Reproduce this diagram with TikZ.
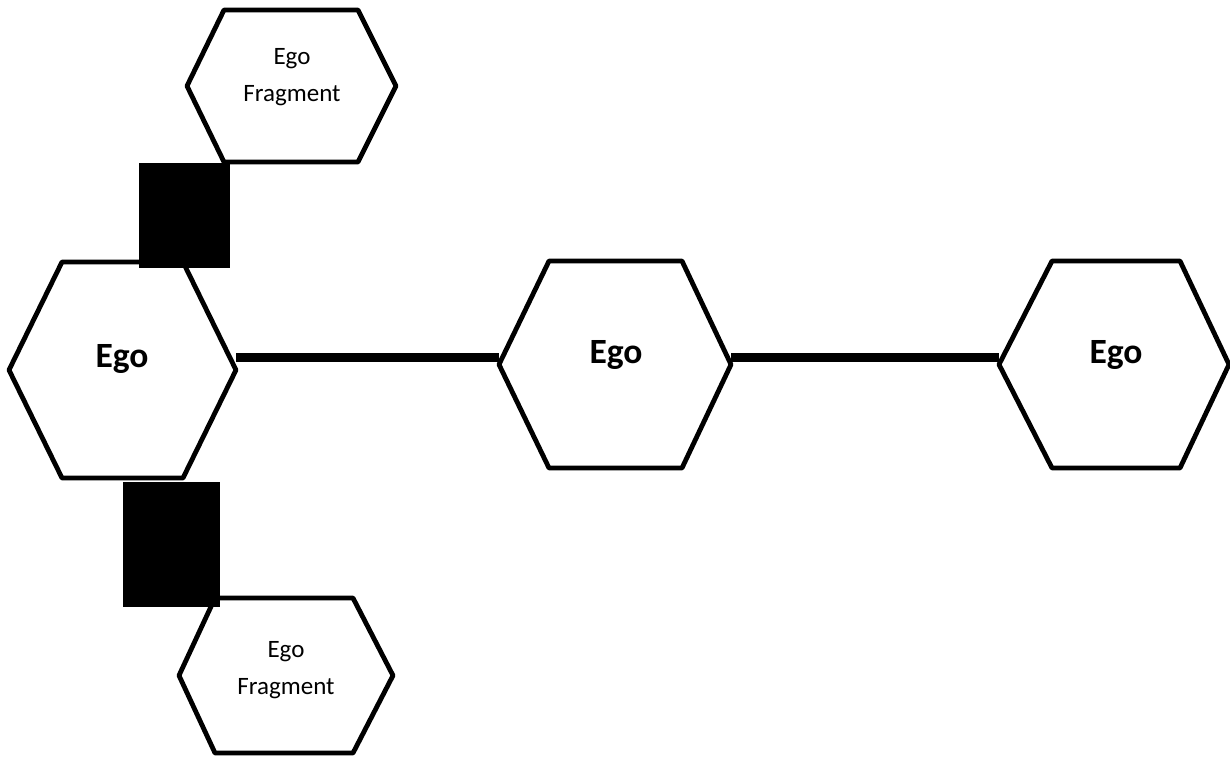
\documentclass[tikz,border=0pt]{standalone}
\usepackage{fontspec}
\setmainfont{Carlito}
\tikzset{
  hexline/.style={line width=4.8pt, line join=round},
  link/.style={line width=9pt},
  blk/.style={fill=black, draw=none, inner sep=0pt, outer sep=0pt, rectangle},
  bigtxt/.style={font=\fontsize{35.5}{40}\selectfont\bfseries, anchor=base, inner sep=0pt},
  fragtxt/.style={font=\fontsize{25}{37}\selectfont, align=center, inner sep=0pt},
}
% #1 name, #2 left x, #3 inner left x, #4 inner right x, #5 right x, #6 top y, #7 bottom y
\newcommand\hexat[7]{%
  \coordinate (#1-w) at (#2,{(#6+#7)/2});
  \coordinate (#1-e) at (#5,{(#6+#7)/2});
  \coordinate (#1-nw) at (#3,#6);
  \coordinate (#1-ne) at (#4,#6);
  \coordinate (#1-sw) at (#3,#7);
  \coordinate (#1-se) at (#4,#7);
  \draw[hexline] (#1-w) -- (#1-nw) -- (#1-ne) -- (#1-e) -- (#1-se) -- (#1-sw) -- cycle;
}
\begin{document}
\begin{tikzpicture}[x=1pt,y=-1pt]
\useasboundingbox (0,0) rectangle (1230,758);
\fill[white] (0,0) rectangle (1230,758);
% hexagons
\hexat{frag1}{187}{224}{358}{396}{10}{162}
\hexat{ego1}{9}{62}{183}{236}{262}{478}
\hexat{ego2}{499}{549}{682}{731}{261}{468}
\hexat{ego3}{999}{1052}{1180}{1229}{261}{468}
\hexat{frag2}{179}{215}{353}{393}{598}{753}
% labels
\node[bigtxt] (t1) at (122,367) {Ego};
\node[bigtxt] (t2) at (616,363) {Ego};
\node[bigtxt] (t3) at (1116,363) {Ego};
\node[fragtxt] (f1) at (292,77) {Ego\\Fragment};
\node[fragtxt] (f2) at (286,670) {Ego\\Fragment};
% links
\draw[link] ([yshift=13pt]ego1-e) -- ([yshift=13pt]ego1-e -| ego2-w);
\draw[link] ([yshift=7.5pt]ego2-e) -- ([yshift=7.5pt]ego2-e -| ego3-w);
% black blocks
\node[blk, minimum width=91pt, minimum height=105pt] (sq1) at (184.5,215.5) {};
\node[blk, minimum width=97pt, minimum height=125pt] (sq2) at (171.5,544.5) {};
\end{tikzpicture}
\end{document}
